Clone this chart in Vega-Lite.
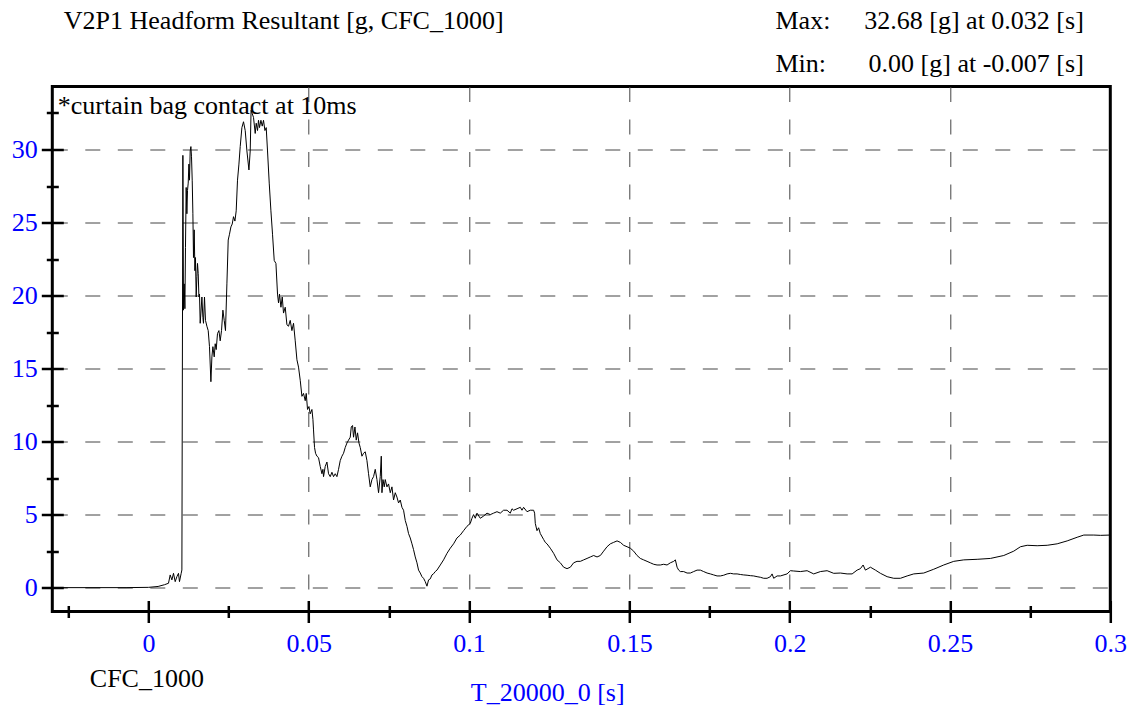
{
  "$schema": "https://vega.github.io/schema/vega-lite/v6.json",
  "width": 1058,
  "height": 525,
  "autosize": {"type": "none"},
  "padding": {"left": 52.3, "top": 86.5, "right": 22.7, "bottom": 99.5},
  "background": "white",
  "config": {
    "view": {"stroke": "black", "strokeWidth": 3},
    "font": "Liberation Serif"
  },
  "data": {
    "values": [
      {"t": -0.03, "g": 0.0}, {"t": -0.007, "g": 0.0}, {"t": 0.0, "g": 0.02}, {"t": 0.003, "g": 0.08}, {"t": 0.005, "g": 0.2},
      {"t": 0.00624, "g": 0.3}, {"t": 0.00677, "g": 0.87}, {"t": 0.0073, "g": 0.53}, {"t": 0.0078, "g": 0.98}, {"t": 0.00833, "g": 0.41},
      {"t": 0.00886, "g": 0.75}, {"t": 0.00936, "g": 0.98}, {"t": 0.00967, "g": 0.41}, {"t": 0.0102, "g": 0.98}, {"t": 0.01042, "g": 1.21},
      {"t": 0.01073, "g": 29.6}, {"t": 0.01092, "g": 19.0}, {"t": 0.01114, "g": 20.8}, {"t": 0.01136, "g": 19.1}, {"t": 0.01154, "g": 23.3},
      {"t": 0.01176, "g": 27.4}, {"t": 0.01198, "g": 25.6}, {"t": 0.01217, "g": 27.2}, {"t": 0.01239, "g": 27.7}, {"t": 0.01261, "g": 29.0},
      {"t": 0.01279, "g": 27.9}, {"t": 0.01301, "g": 29.9}, {"t": 0.01323, "g": 30.2}, {"t": 0.01342, "g": 29.5}, {"t": 0.01364, "g": 27.9},
      {"t": 0.01385, "g": 25.6}, {"t": 0.01404, "g": 22.6}, {"t": 0.01426, "g": 24.5}, {"t": 0.01448, "g": 21.7}, {"t": 0.01466, "g": 22.6},
      {"t": 0.01488, "g": 19.9}, {"t": 0.0151, "g": 21.3}, {"t": 0.01529, "g": 22.2}, {"t": 0.01551, "g": 21.5}, {"t": 0.01573, "g": 19.9},
      {"t": 0.01591, "g": 20.1}, {"t": 0.01613, "g": 18.1}, {"t": 0.01635, "g": 18.8}, {"t": 0.01666, "g": 19.9}, {"t": 0.01697, "g": 18.5},
      {"t": 0.01716, "g": 18.1}, {"t": 0.01747, "g": 19.9}, {"t": 0.01778, "g": 18.3}, {"t": 0.01822, "g": 17.9}, {"t": 0.01863, "g": 17.6},
      {"t": 0.01903, "g": 16.5}, {"t": 0.01947, "g": 14.1}, {"t": 0.01978, "g": 15.8}, {"t": 0.02009, "g": 16.5}, {"t": 0.0205, "g": 15.8},
      {"t": 0.02081, "g": 16.7}, {"t": 0.02112, "g": 16.3}, {"t": 0.02153, "g": 17.4}, {"t": 0.02197, "g": 17.6}, {"t": 0.02237, "g": 16.9},
      {"t": 0.02278, "g": 17.6}, {"t": 0.02321, "g": 19.0}, {"t": 0.02362, "g": 18.3}, {"t": 0.02402, "g": 17.6}, {"t": 0.02446, "g": 20.8},
      {"t": 0.02487, "g": 23.8}, {"t": 0.02527, "g": 24.2}, {"t": 0.02571, "g": 24.7}, {"t": 0.02612, "g": 24.9}, {"t": 0.02652, "g": 25.4},
      {"t": 0.02696, "g": 25.1}, {"t": 0.02736, "g": 25.8}, {"t": 0.02777, "g": 27.9}, {"t": 0.02821, "g": 29.0}, {"t": 0.02861, "g": 30.2},
      {"t": 0.02914, "g": 31.5}, {"t": 0.02964, "g": 31.9}, {"t": 0.03017, "g": 31.3}, {"t": 0.0307, "g": 29.9}, {"t": 0.03133, "g": 28.6},
      {"t": 0.03173, "g": 29.9}, {"t": 0.032, "g": 32.68}, {"t": 0.03276, "g": 32.2}, {"t": 0.03329, "g": 31.1}, {"t": 0.0336, "g": 31.8},
      {"t": 0.03401, "g": 31.3}, {"t": 0.03432, "g": 32.0}, {"t": 0.03463, "g": 31.5}, {"t": 0.03507, "g": 32.0}, {"t": 0.03548, "g": 31.6},
      {"t": 0.03588, "g": 32.0}, {"t": 0.03632, "g": 31.3}, {"t": 0.03672, "g": 31.5}, {"t": 0.03713, "g": 29.9}, {"t": 0.03766, "g": 27.7},
      {"t": 0.03819, "g": 25.8}, {"t": 0.03869, "g": 24.2}, {"t": 0.03922, "g": 22.4}, {"t": 0.03975, "g": 22.2}, {"t": 0.04025, "g": 20.1},
      {"t": 0.04056, "g": 19.5}, {"t": 0.04087, "g": 20.1}, {"t": 0.04131, "g": 19.2}, {"t": 0.04172, "g": 19.9}, {"t": 0.04212, "g": 18.8},
      {"t": 0.04265, "g": 19.2}, {"t": 0.04318, "g": 18.0}, {"t": 0.04368, "g": 17.9}, {"t": 0.04421, "g": 18.3}, {"t": 0.04474, "g": 17.6},
      {"t": 0.04524, "g": 18.1}, {"t": 0.04577, "g": 16.9}, {"t": 0.0463, "g": 15.6}, {"t": 0.0468, "g": 15.1}, {"t": 0.04733, "g": 14.2},
      {"t": 0.04786, "g": 13.1}, {"t": 0.04836, "g": 13.3}, {"t": 0.04889, "g": 12.8}, {"t": 0.0492, "g": 13.3}, {"t": 0.04961, "g": 12.2},
      {"t": 0.05005, "g": 12.4}, {"t": 0.05045, "g": 11.9}, {"t": 0.05098, "g": 12.2}, {"t": 0.0513, "g": 11.5}, {"t": 0.05148, "g": 10.8},
      {"t": 0.05179, "g": 9.6}, {"t": 0.05211, "g": 9.2}, {"t": 0.05254, "g": 9.0}, {"t": 0.05304, "g": 8.9}, {"t": 0.05357, "g": 8.3},
      {"t": 0.0541, "g": 7.8}, {"t": 0.05441, "g": 8.1}, {"t": 0.0546, "g": 7.6}, {"t": 0.05513, "g": 8.3}, {"t": 0.05566, "g": 8.6},
      {"t": 0.05616, "g": 7.8}, {"t": 0.05669, "g": 7.6}, {"t": 0.05722, "g": 7.9}, {"t": 0.05772, "g": 7.6}, {"t": 0.05825, "g": 7.8},
      {"t": 0.05878, "g": 7.6}, {"t": 0.05928, "g": 8.1}, {"t": 0.05981, "g": 8.7}, {"t": 0.06034, "g": 9.0}, {"t": 0.06084, "g": 9.2},
      {"t": 0.06137, "g": 9.6}, {"t": 0.0619, "g": 9.9}, {"t": 0.0624, "g": 10.1}, {"t": 0.06293, "g": 10.3}, {"t": 0.06325, "g": 11.0},
      {"t": 0.06365, "g": 11.1}, {"t": 0.06396, "g": 10.3}, {"t": 0.0644, "g": 11.0}, {"t": 0.0648, "g": 10.1}, {"t": 0.06521, "g": 10.6},
      {"t": 0.06565, "g": 9.9}, {"t": 0.06605, "g": 9.6}, {"t": 0.06658, "g": 9.0}, {"t": 0.06708, "g": 9.2}, {"t": 0.06761, "g": 9.3},
      {"t": 0.06814, "g": 8.7}, {"t": 0.06864, "g": 7.8}, {"t": 0.06917, "g": 6.9}, {"t": 0.0697, "g": 7.4}, {"t": 0.0702, "g": 7.6},
      {"t": 0.07073, "g": 8.1}, {"t": 0.07126, "g": 7.4}, {"t": 0.07176, "g": 6.5}, {"t": 0.07229, "g": 7.6}, {"t": 0.07261, "g": 9.0},
      {"t": 0.07282, "g": 6.5}, {"t": 0.07314, "g": 7.4}, {"t": 0.07354, "g": 6.9}, {"t": 0.07385, "g": 7.4}, {"t": 0.07438, "g": 6.9},
      {"t": 0.07488, "g": 7.1}, {"t": 0.07541, "g": 6.5}, {"t": 0.07594, "g": 6.9}, {"t": 0.07644, "g": 6.0}, {"t": 0.07697, "g": 6.5},
      {"t": 0.0775, "g": 6.2}, {"t": 0.078, "g": 5.8}, {"t": 0.07853, "g": 6.0}, {"t": 0.07906, "g": 5.5}, {"t": 0.07956, "g": 5.3},
      {"t": 0.08009, "g": 4.6}, {"t": 0.08062, "g": 4.2}, {"t": 0.08112, "g": 3.7}, {"t": 0.08165, "g": 3.4}, {"t": 0.08218, "g": 3.0},
      {"t": 0.08268, "g": 2.6}, {"t": 0.08321, "g": 2.1}, {"t": 0.08374, "g": 1.7}, {"t": 0.08424, "g": 1.2}, {"t": 0.08477, "g": 1.0},
      {"t": 0.0853, "g": 0.75}, {"t": 0.0858, "g": 0.64}, {"t": 0.08633, "g": 0.41}, {"t": 0.08686, "g": 0.1}, {"t": 0.08736, "g": 0.53},
      {"t": 0.08789, "g": 0.6}, {"t": 0.08842, "g": 0.87}, {"t": 0.08892, "g": 0.95}, {"t": 0.08945, "g": 1.1}, {"t": 0.08998, "g": 1.2},
      {"t": 0.09102, "g": 1.55}, {"t": 0.09204, "g": 1.9}, {"t": 0.09311, "g": 2.35}, {"t": 0.09413, "g": 2.7}, {"t": 0.09516, "g": 3.0},
      {"t": 0.09622, "g": 3.4}, {"t": 0.09725, "g": 3.6}, {"t": 0.09828, "g": 3.9}, {"t": 0.09934, "g": 4.2}, {"t": 0.10037, "g": 4.4},
      {"t": 0.1009, "g": 4.75}, {"t": 0.1014, "g": 5.0}, {"t": 0.10193, "g": 4.75}, {"t": 0.10246, "g": 5.1}, {"t": 0.10349, "g": 4.75},
      {"t": 0.10452, "g": 4.9}, {"t": 0.10558, "g": 5.1}, {"t": 0.10661, "g": 5.0}, {"t": 0.10764, "g": 5.1}, {"t": 0.1087, "g": 5.2},
      {"t": 0.10973, "g": 5.1}, {"t": 0.11076, "g": 5.3}, {"t": 0.11183, "g": 5.3}, {"t": 0.11285, "g": 5.1}, {"t": 0.11338, "g": 5.4},
      {"t": 0.11388, "g": 5.3}, {"t": 0.11495, "g": 5.4}, {"t": 0.11598, "g": 5.5}, {"t": 0.1165, "g": 5.3}, {"t": 0.117, "g": 5.5},
      {"t": 0.11807, "g": 5.2}, {"t": 0.1191, "g": 5.3}, {"t": 0.12012, "g": 5.3}, {"t": 0.12044, "g": 5.1}, {"t": 0.12065, "g": 4.4},
      {"t": 0.12118, "g": 3.9}, {"t": 0.12168, "g": 4.1}, {"t": 0.12222, "g": 3.7}, {"t": 0.12324, "g": 3.3}, {"t": 0.12377, "g": 3.1},
      {"t": 0.1243, "g": 3.0}, {"t": 0.12533, "g": 2.7}, {"t": 0.12637, "g": 2.35}, {"t": 0.12743, "g": 1.9}, {"t": 0.12846, "g": 1.7},
      {"t": 0.12949, "g": 1.4}, {"t": 0.13055, "g": 1.3}, {"t": 0.13158, "g": 1.4}, {"t": 0.13261, "g": 1.7}, {"t": 0.13367, "g": 1.8},
      {"t": 0.1347, "g": 1.8}, {"t": 0.13573, "g": 1.9}, {"t": 0.13679, "g": 2.0}, {"t": 0.13782, "g": 2.1}, {"t": 0.13885, "g": 2.2},
      {"t": 0.13991, "g": 2.1}, {"t": 0.14094, "g": 2.2}, {"t": 0.14197, "g": 2.5}, {"t": 0.14303, "g": 2.8}, {"t": 0.14406, "g": 3.0},
      {"t": 0.14509, "g": 3.1}, {"t": 0.14615, "g": 3.2}, {"t": 0.14718, "g": 3.1}, {"t": 0.14821, "g": 2.9}, {"t": 0.14927, "g": 2.8},
      {"t": 0.1503, "g": 2.7}, {"t": 0.15133, "g": 2.5}, {"t": 0.15239, "g": 2.2}, {"t": 0.15342, "g": 2.0}, {"t": 0.15445, "g": 1.9},
      {"t": 0.15551, "g": 1.8}, {"t": 0.15654, "g": 1.7}, {"t": 0.15757, "g": 1.6}, {"t": 0.15863, "g": 1.55}, {"t": 0.15966, "g": 1.55},
      {"t": 0.16069, "g": 1.6}, {"t": 0.16175, "g": 1.55}, {"t": 0.16278, "g": 1.7}, {"t": 0.16381, "g": 1.8}, {"t": 0.16434, "g": 1.9},
      {"t": 0.16487, "g": 1.4}, {"t": 0.16537, "g": 1.2}, {"t": 0.1659, "g": 1.1}, {"t": 0.16693, "g": 1.1}, {"t": 0.16799, "g": 1.0},
      {"t": 0.16902, "g": 1.0}, {"t": 0.17005, "g": 1.1}, {"t": 0.17111, "g": 1.2}, {"t": 0.17214, "g": 1.2}, {"t": 0.17317, "g": 1.1},
      {"t": 0.17423, "g": 1.0}, {"t": 0.17526, "g": 0.94}, {"t": 0.17629, "g": 0.87}, {"t": 0.17735, "g": 0.8}, {"t": 0.17838, "g": 0.8},
      {"t": 0.17941, "g": 0.85}, {"t": 0.18047, "g": 0.94}, {"t": 0.1815, "g": 0.98}, {"t": 0.18253, "g": 0.94}, {"t": 0.18359, "g": 0.94},
      {"t": 0.18462, "g": 0.9}, {"t": 0.18565, "g": 0.87}, {"t": 0.18671, "g": 0.85}, {"t": 0.18774, "g": 0.82}, {"t": 0.18877, "g": 0.8},
      {"t": 0.18983, "g": 0.75}, {"t": 0.19086, "g": 0.71}, {"t": 0.19189, "g": 0.64}, {"t": 0.19295, "g": 0.64}, {"t": 0.19398, "g": 0.75},
      {"t": 0.19451, "g": 0.94}, {"t": 0.19501, "g": 0.64}, {"t": 0.19607, "g": 0.8}, {"t": 0.1971, "g": 0.8}, {"t": 0.19918, "g": 0.94},
      {"t": 0.20022, "g": 1.16}, {"t": 0.20125, "g": 1.14}, {"t": 0.20334, "g": 1.1}, {"t": 0.20543, "g": 1.16}, {"t": 0.20749, "g": 0.94},
      {"t": 0.20958, "g": 1.1}, {"t": 0.21167, "g": 1.16}, {"t": 0.21373, "g": 0.98}, {"t": 0.21582, "g": 1.0}, {"t": 0.21791, "g": 0.94},
      {"t": 0.21947, "g": 0.94}, {"t": 0.22103, "g": 1.2}, {"t": 0.22206, "g": 1.3}, {"t": 0.2229, "g": 1.55}, {"t": 0.22362, "g": 1.2},
      {"t": 0.22518, "g": 1.4}, {"t": 0.22674, "g": 1.2}, {"t": 0.2283, "g": 0.98}, {"t": 0.23039, "g": 0.75}, {"t": 0.23245, "g": 0.64},
      {"t": 0.23454, "g": 0.64}, {"t": 0.23663, "g": 0.8}, {"t": 0.23869, "g": 0.94}, {"t": 0.24181, "g": 1.0}, {"t": 0.24493, "g": 1.26},
      {"t": 0.24805, "g": 1.55}, {"t": 0.25117, "g": 1.8}, {"t": 0.25429, "g": 1.9}, {"t": 0.25847, "g": 1.94}, {"t": 0.26262, "g": 2.0},
      {"t": 0.26677, "g": 2.2}, {"t": 0.26989, "g": 2.5}, {"t": 0.27198, "g": 2.8}, {"t": 0.27407, "g": 2.9}, {"t": 0.27719, "g": 2.87},
      {"t": 0.28031, "g": 2.9}, {"t": 0.28343, "g": 3.0}, {"t": 0.28655, "g": 3.2}, {"t": 0.28967, "g": 3.45}, {"t": 0.29173, "g": 3.6},
      {"t": 0.29485, "g": 3.6}, {"t": 0.29694, "g": 3.58}, {"t": 0.3, "g": 3.6}
    ]
  },
  "resolve": {"axis": {"x": "independent", "y": "independent"}},
  "layer": [
    {
      "mark": {"type": "line", "color": "black", "strokeWidth": 1, "clip": true},
      "encoding": {
        "x": {
          "field": "t", "type": "quantitative",
          "scale": {"domain": [-0.03, 0.3], "nice": false, "zero": false},
          "axis": {
            "orient": "bottom",
            "values": [-0.025, 0, 0.025, 0.05, 0.075, 0.1, 0.125, 0.15, 0.175, 0.2, 0.225, 0.25, 0.275, 0.3],
            "labelExpr": "abs(datum.value*20 - round(datum.value*20)) < 0.001 ? format(datum.value, '~g') : ''",
            "tickSize": {"condition": {"test": "abs(datum.value*20 - round(datum.value*20)) < 0.001", "value": 11}, "value": 6},
            "tickWidth": 2.5, "tickColor": "black",
            "domain": false,
            "grid": true,
            "gridDash": [15, 17.5],
            "gridColor": "#444",
            "gridWidth": 1,
            "gridOpacity": {"condition": {"test": "abs(datum.value*20 - round(datum.value*20)) < 0.001 && datum.value > 0.001 && datum.value < 0.299", "value": 1}, "value": 0},
            "labelColor": "blue", "labelFont": "Liberation Serif", "labelFontSize": 26,
            "labelPadding": 8, "labelFlush": false, "labelOverlap": false, "labelBound": false,
            "title": "T_20000_0 [s]",
            "titleColor": "blue", "titleFont": "Liberation Serif", "titleFontSize": 26, "titleFontWeight": "normal",
            "titleAlign": "left", "titleBaseline": "alphabetic", "titleAnchor": "start",
            "titleX": 418, "titleY": 89
          }
        },
        "y": {
          "field": "g", "type": "quantitative",
          "scale": {"domain": [-1.634, 34.314], "nice": false, "zero": false},
          "axis": {
            "orient": "left",
            "values": [0, 2.5, 5, 7.5, 10, 12.5, 15, 17.5, 20, 22.5, 25, 27.5, 30, 32.5],
            "labelExpr": "abs(datum.value/5 - round(datum.value/5)) < 0.001 ? format(datum.value, 'd') : ''",
            "tickSize": {"condition": {"test": "abs(datum.value/5 - round(datum.value/5)) < 0.001", "value": 11}, "value": 6},
            "tickWidth": 2.5, "tickColor": "black",
            "domain": false,
            "grid": true,
            "gridDash": [15, 17.5],
            "gridColor": "#444",
            "gridWidth": 1,
            "gridOpacity": {"condition": {"test": "abs(datum.value/5 - round(datum.value/5)) < 0.001", "value": 1}, "value": 0},
            "labelColor": "blue", "labelFont": "Liberation Serif", "labelFontSize": 26,
            "labelPadding": 4, "labelFlush": false, "labelOverlap": false, "labelBound": false,
            "title": "V2P1 Headform Resultant [g, CFC_1000]",
            "titleColor": "black", "titleFont": "Liberation Serif", "titleFontSize": 26, "titleFontWeight": "normal",
            "titleAngle": 0, "titleAlign": "left", "titleBaseline": "alphabetic", "titleAnchor": "start",
            "titleX": 11, "titleY": -58.5
          }
        }
      }
    },
    {
      "mark": {"type": "line", "strokeOpacity": 0},
      "encoding": {
        "x": {
          "field": "t", "type": "quantitative",
          "scale": {"domain": [-0.03, 0.3], "nice": false, "zero": false},
          "axis": {
            "orient": "bottom",
            "values": [-0.025, 0, 0.025, 0.05, 0.075, 0.1, 0.125, 0.15, 0.175, 0.2, 0.225, 0.25, 0.275, 0.3],
            "labels": false,
            "tickSize": {"condition": {"test": "abs(datum.value*20 - round(datum.value*20)) < 0.001", "value": -11}, "value": -6},
            "tickWidth": 2.5, "tickColor": "black",
            "domain": false, "grid": false,
            "title": "CFC_1000",
            "titleColor": "black", "titleFont": "Liberation Serif", "titleFontSize": 26, "titleFontWeight": "normal",
            "titleAlign": "left", "titleBaseline": "alphabetic", "titleAnchor": "start",
            "titleX": 37, "titleY": 74.5
          }
        },
        "y": {
          "field": "g", "type": "quantitative",
          "scale": {"domain": [-1.634, 34.314], "nice": false, "zero": false},
          "axis": {
            "orient": "left",
            "values": [0, 2.5, 5, 7.5, 10, 12.5, 15, 17.5, 20, 22.5, 25, 27.5, 30, 32.5],
            "labels": false,
            "tickSize": {"condition": {"test": "abs(datum.value/5 - round(datum.value/5)) < 0.001", "value": -11}, "value": -6},
            "tickWidth": 2.5, "tickColor": "black",
            "domain": false, "grid": false,
            "title": "*curtain bag contact at 10ms",
            "titleColor": "black", "titleFont": "Liberation Serif", "titleFontSize": 26, "titleFontWeight": "normal",
            "titleAngle": 0, "titleAlign": "left", "titleBaseline": "alphabetic", "titleAnchor": "start",
            "titleX": 5, "titleY": 26.5
          }
        }
      }
    },
    {
      "mark": {"type": "line", "strokeOpacity": 0},
      "encoding": {
        "x": {
          "field": "t", "type": "quantitative",
          "scale": {"domain": [-0.03, 0.3], "nice": false, "zero": false},
          "axis": {
            "orient": "top",
            "labels": false, "ticks": false, "domain": false, "grid": false,
            "title": ["32.68 [g] at 0.032 [s]", "0.00 [g] at -0.007 [s]"],
            "titleColor": "black", "titleFont": "Liberation Serif", "titleFontSize": 26, "titleFontWeight": "normal",
            "titleAlign": "right", "titleBaseline": "alphabetic", "titleAnchor": "start", "titleLineHeight": 43,
            "titleX": 1031, "titleY": -58.5
          }
        },
        "y": {
          "field": "g", "type": "quantitative",
          "scale": {"domain": [-1.634, 34.314], "nice": false, "zero": false},
          "axis": {
            "orient": "right",
            "labels": false, "ticks": false, "domain": false, "grid": false,
            "title": ["Max:", "Min:"],
            "titleColor": "black", "titleFont": "Liberation Serif", "titleFontSize": 26, "titleFontWeight": "normal",
            "titleAngle": 0, "titleAlign": "left", "titleBaseline": "alphabetic", "titleAnchor": "start", "titleLineHeight": 43,
            "titleX": -335.3, "titleY": -58.5
          }
        }
      }
    }
  ]
}
